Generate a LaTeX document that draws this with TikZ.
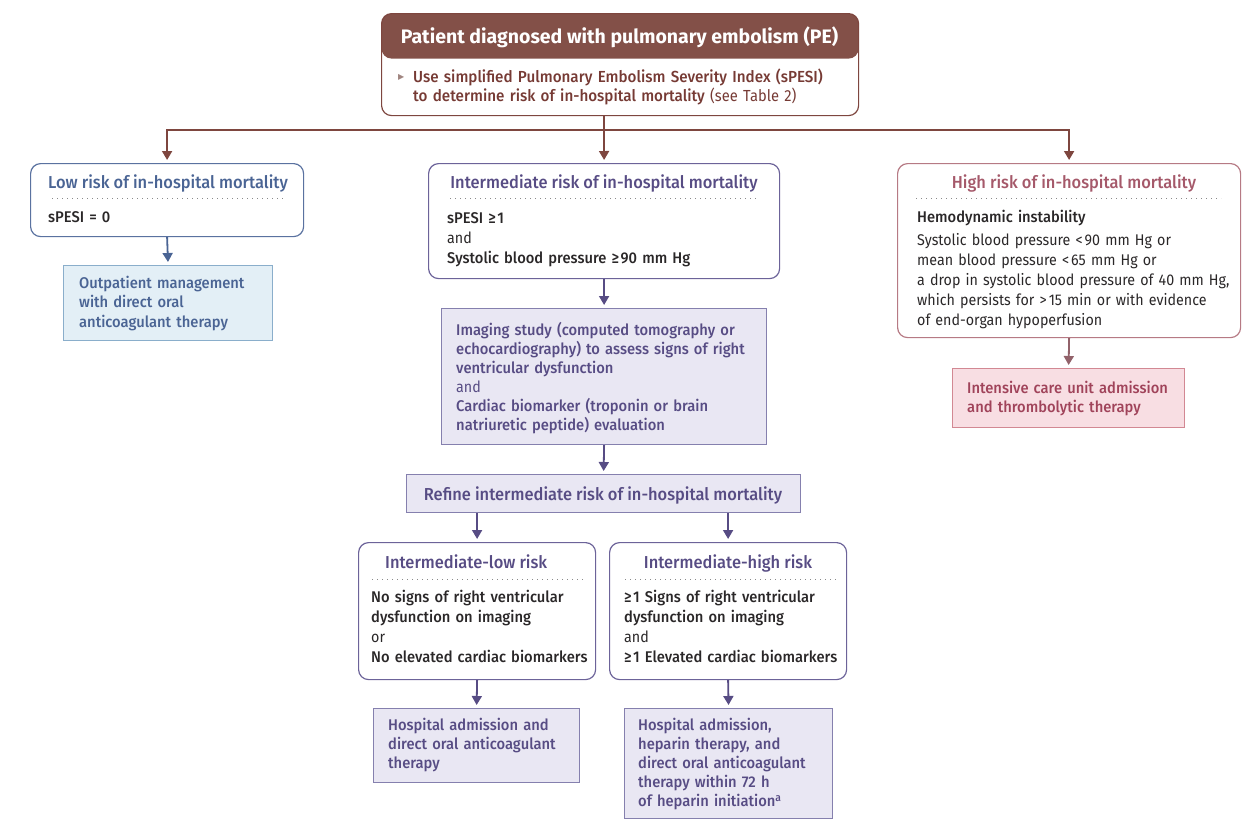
\documentclass[tikz,border=0pt]{standalone}
\usepackage{fontspec}
\setmainfont{Fira Sans}[BoldFont={Fira Sans Medium}, UprightFeatures={FakeStretch=0.92}, BoldFeatures={FakeStretch=0.95}]
\newfontfamily\heavyfont{Fira Sans}
\newfontfamily\symfont{DejaVu Sans}
\usetikzlibrary{arrows.meta, positioning}

\definecolor{pebrown}{HTML}{7E463F}
\definecolor{pehead}{HTML}{835048}
\definecolor{petext}{HTML}{763A34}
\definecolor{petri}{HTML}{A08580}
\definecolor{lowline}{HTML}{5A72A0}
\definecolor{lowtext}{HTML}{4A6494}
\definecolor{lowfill}{HTML}{E3EFF6}
\definecolor{lowedge}{HTML}{8AAECB}
\definecolor{midline}{HTML}{6C6399}
\definecolor{midtext}{HTML}{574C84}
\definecolor{midfill}{HTML}{E9E7F3}
\definecolor{midedge}{HTML}{8580AE}
\definecolor{highline}{HTML}{B67A84}
\definecolor{hightext}{HTML}{A5596A}
\definecolor{highfill}{HTML}{F8DEE3}
\definecolor{highedge}{HTML}{D28893}
\definecolor{icutext}{HTML}{A0435A}
\definecolor{bodytext}{HTML}{2A2728}
\definecolor{dotgray}{HTML}{8A8A8A}

\newcommand{\atleast}{≥\kern1.5pt}

\tikzset{
  box/.style={draw, rounded corners=10pt, line width=1.2pt, anchor=north west, inner sep=0pt},
  resbox/.style={draw, line width=1.2pt, anchor=north west, inner sep=0pt},
  txt/.style={anchor=base west, inner sep=0pt, align=left, text width=350pt, text=bodytext},
  ttl/.style={anchor=base, inner sep=0pt, font=\fontsize{17.3}{20}\selectfont\bfseries},
  sep/.style={draw=dotgray, line width=1pt, dash pattern=on 1pt off 4pt},
  arr/.style={-{Triangle[length=9pt,width=10pt]}, line width=1.8pt, shorten >=3pt},
}

\begin{document}
\begin{tikzpicture}[x=1pt, y=-1pt, font=\fontsize{15.5}{19.5}\selectfont]
\useasboundingbox (0,0) rectangle (1248,828);

% top
\node[box, draw=pebrown, minimum width=477pt, minimum height=102pt,
  path picture={\fill[pehead] (path picture bounding box.north west) rectangle ([yshift=-45pt]path picture bounding box.north east);}] (top) at (381,13) {};
\node[ttl, text=white, font=\heavyfont\fontsize{19.5}{20}\selectfont\bfseries] (toptitle) at (619.5,43) {Patient diagnosed with pulmonary embolism (PE)};
\node[anchor=base west, inner sep=0pt, text=petri, font=\symfont\fontsize{8}{8}\selectfont] (toptri) at (398,79) {▶};
\node[txt, text=petext, text width=450pt, font=\fontsize{16}{19}\selectfont] (topbody) at (413,82) {\bfseries Use simplified Pulmonary Embolism Severity Index (sPESI)\\
  to determine risk of in-hospital mortality {\mdseries (see Table 2)}};
\coordinate (split) at (604,130);

% low risk
\node[box, draw=lowline, minimum width=273pt, minimum height=73pt] (low) at (30,163) {};
\node[ttl, text=lowtext] (lowtitle) at (168,188) {Low risk of in-hospital mortality};
\draw[sep] (52,198) -- (285,198);
\node[txt] (lowbody) at (48,222) {\bfseries sPESI = 0};
\node[resbox, draw=lowedge, fill=lowfill, minimum width=209pt, minimum height=75pt] (out) at (63,265) {};
\node[txt, text=lowtext] (outtext) at (79,288) {\bfseries Outpatient management\\ with direct oral\\ anticoagulant therapy};

% intermediate risk
\node[box, draw=midline, minimum width=351pt, minimum height=115pt] (intm) at (428,163) {};
\node[ttl, text=midtext] (intmtitle) at (604,188) {Intermediate risk of in-hospital mortality};
\draw[sep] (450,198) -- (758,198);
\node[txt, font=\fontsize{15.5}{20}\selectfont] (intmbody) at (447,223) {\bfseries sPESI \atleast1\\ \mdseries and\\ \bfseries Systolic blood pressure \atleast90 mm Hg};
\node[resbox, draw=midedge, fill=midfill, minimum width=325pt, minimum height=136pt] (img) at (441,308) {};
\node[txt, text=midtext, font=\fontsize{15.5}{19}\selectfont] (imgtext) at (456,335) {\bfseries Imaging study (computed tomography or\\
  echocardiography) to assess signs of right\\ ventricular dysfunction\\ {\mdseries and}\\
  Cardiac biomarker (troponin or brain\\ natriuretic peptide) evaluation};
\node[resbox, draw=midedge, fill=midfill, minimum width=394pt, minimum height=38pt] (refine) at (406,474) {};
\node[ttl, text=midtext] (refinetext) at (603,500) {Refine intermediate risk of in-hospital mortality};

% intermediate-low
\node[box, draw=midline, minimum width=237pt, minimum height=137pt] (ilow) at (358,542) {};
\node[ttl, text=midtext, anchor=base west] (ilowtitle) at (385,568) {Intermediate-low risk};
\draw[sep] (372,579) -- (583,579);
\node[txt, font=\fontsize{15.5}{20}\selectfont] (ilowbody) at (371,602) {\bfseries No signs of right ventricular\\ dysfunction on imaging\\ {\mdseries or}\\ No elevated cardiac biomarkers};
\node[resbox, draw=midedge, fill=midfill, minimum width=206pt, minimum height=74pt] (hadm) at (373,708) {};
\node[txt, text=midtext, font=\fontsize{15.5}{19}\selectfont] (hadmtext) at (388,730) {\bfseries Hospital admission and\\ direct oral anticoagulant\\ therapy};

% intermediate-high
\node[box, draw=midline, minimum width=237pt, minimum height=137pt] (ihigh) at (609,542) {};
\node[ttl, text=midtext] (ihightitle) at (728,568) {Intermediate-high risk};
\draw[sep] (625,579) -- (837,579);
\node[txt, font=\fontsize{15.5}{20}\selectfont] (ihighbody) at (624,602) {\bfseries \atleast1 Signs of right ventricular\\ dysfunction on imaging\\ {\mdseries and}\\ \atleast1 Elevated cardiac biomarkers};
\node[resbox, draw=midedge, fill=midfill, minimum width=208pt, minimum height=110pt] (hhep) at (624,708) {};
\node[txt, text=midtext, font=\fontsize{15.5}{19.2}\selectfont] (hheptext) at (638,730) {\bfseries Hospital admission,\\ heparin therapy, and\\ direct oral anticoagulant\\ therapy within 72 h\\ of heparin initiation\textsuperscript{a}};

% high risk
\node[box, draw=highline, minimum width=343pt, minimum height=174pt] (high) at (897,163) {};
\node[ttl, text=hightext] (hightitle) at (1074,188) {High risk of in-hospital mortality};
\draw[sep] (916,198) -- (1221,198);
\node[txt] (highhead) at (917,222) {\bfseries Hemodynamic instability};
\node[txt, font=\fontsize{15.5}{20}\selectfont] (highbody) at (917,245) {Systolic blood pressure <\kern2pt90 mm Hg or\\
  mean blood pressure <\kern2pt65 mm Hg or\\ a drop in systolic blood pressure of 40 mm Hg,\\
  which persists for >\kern2pt15 min or with evidence\\ of end-organ hypoperfusion};
\node[resbox, draw=highedge, fill=highfill, minimum width=232pt, minimum height=59pt] (icu) at (952,368) {};
\node[txt, text=icutext, font=\fontsize{15.5}{19.5}\selectfont] (icutext) at (967,393) {\bfseries Intensive care unit admission\\ and thrombolytic therapy};

% connectors
\draw[pebrown, line width=1.8pt] (top.south -| split) -- (split);
\draw[arr, pebrown] (split) -- (intm.north);
\draw[arr, pebrown] (split) -| (low.north);
\draw[arr, pebrown] (split) -| (high.north);
\draw[arr, lowtext] (low.south) -- (out.north);
\draw[arr, midtext] (intm.south) -- (img.north);
\draw[arr, midtext] (img.south) -- (refine.north);
\draw[arr, midtext] (refine.south -| ilow.north) -- (ilow.north);
\draw[arr, midtext] (refine.south -| ihigh.north) -- (ihigh.north);
\draw[arr, midtext] (ilow.south) -- (hadm.north);
\draw[arr, midtext] (ihigh.south) -- (hhep.north);
\draw[arr, highline!80!black] (high.south) -- (icu.north);
\end{tikzpicture}
\end{document}
